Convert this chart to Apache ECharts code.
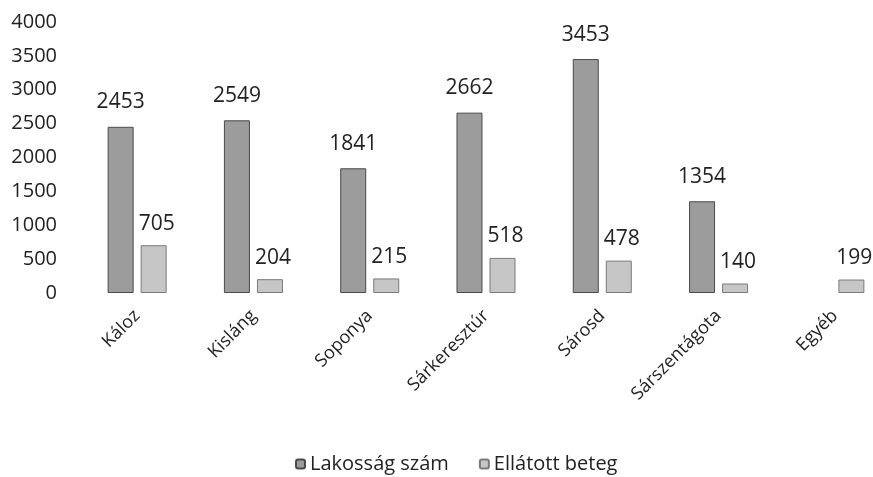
<!DOCTYPE html>
<html>
<head>
<meta charset="utf-8">
<script src="https://cdn.jsdelivr.net/npm/echarts@6/dist/echarts.min.js"></script>
<style>
  html, body { margin: 0; padding: 0; background: #fff; overflow: hidden; }
  /* the plot runs past the right edge in the original, so the canvas is wider than the window */
  #chart { width: 900px; height: 477px; }
</style>
</head>
<body>
<div id="chart"></div>
<script>
var categories = ['Káloz', 'Kisláng', 'Soponya', 'Sárkeresztúr', 'Sárosd', 'Sárszentágota', 'Egyéb'];
var lakossag = [2453, 2549, 1841, 2662, 3453, 1354, null];
var ellatott = [705, 204, 215, 518, 478, 140, 199];
var yTicks = [0, 4000, 500];

var font = '"Open Sans", "Noto Sans", sans-serif';
var chart = echarts.init(document.getElementById('chart'));
chart.setOption({
  animation: false,
  textStyle: { fontFamily: font },
  grid: { left: 79, top: 22, width: 814, height: 271 },
  legend: {
    top: 449,
    left: 290,
    itemWidth: 9,
    itemHeight: 9,
    itemGap: 30,
    textStyle: { fontSize: 20, color: '#222', fontFamily: font },
    data: ['Lakosság szám', 'Ellátott beteg']
  },
  xAxis: {
    type: 'category',
    data: categories,
    axisLine: { show: false },
    axisTick: { show: false },
    axisLabel: { rotate: 45, fontSize: 18, color: '#222', margin: 20, interval: 0 }
  },
  yAxis: {
    type: 'value',
    min: yTicks[0],
    max: yTicks[1],
    interval: yTicks[2],
    axisLine: { show: false },
    axisTick: { show: false },
    splitLine: { show: false },
    axisLabel: { fontSize: 20, color: '#222', margin: 22, formatter: function (v) { return String(v); } }
  },
  series: [
    {
      name: 'Lakosság szám',
      type: 'bar',
      data: lakossag,
      barWidth: 26,
      barGap: '27%',
      itemStyle: { color: '#9c9c9c', borderColor: '#4a4a4a', borderWidth: 1 },
      label: { show: true, position: 'top', distance: 14, fontSize: 21, color: '#222' }
    },
    {
      name: 'Ellátott beteg',
      type: 'bar',
      data: ellatott,
      barWidth: 26,
      itemStyle: { color: '#c6c6c6', borderColor: '#7a7a7a', borderWidth: 1 },
      label: { show: true, position: 'top', distance: 11, offset: [3, 0], fontSize: 21, color: '#222' }
    }
  ]
});
</script>
</body>
</html>
